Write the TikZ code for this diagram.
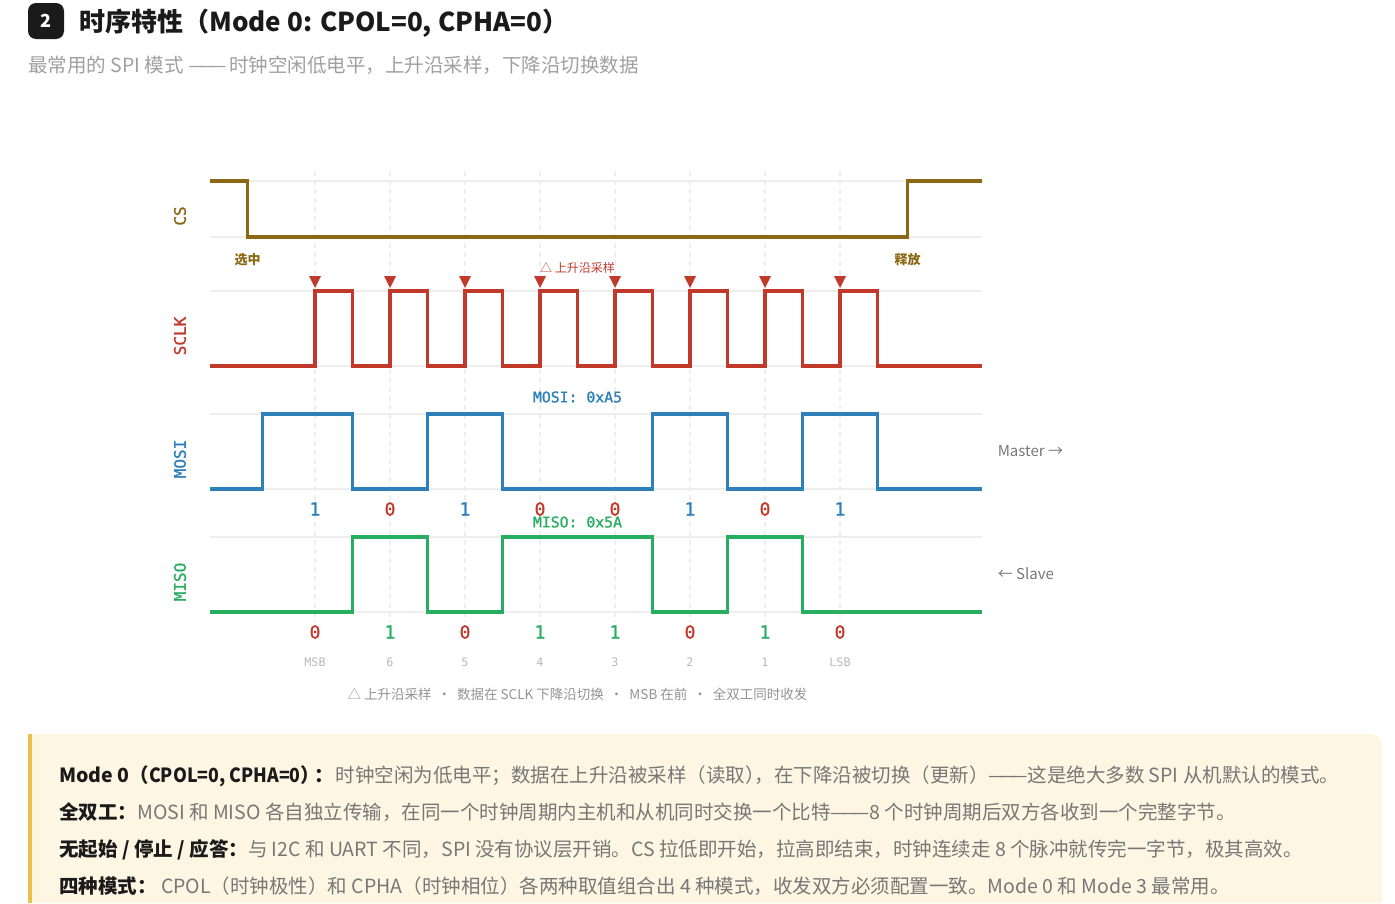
\documentclass[tikz,border=0pt]{standalone}
\usepackage{graphicx}
\usepackage{fontspec}
\setmainfont{Noto Sans CJK SC}
\newfontfamily\monof[FakeBold=1.3]{DejaVu Sans Mono}
\newfontfamily\monol{DejaVu Sans Mono}
\newcommand{\fpx}[1]{\fontsize{\dimexpr#1pt*3/4\relax}{\dimexpr#1pt*9/10\relax}\selectfont}
\definecolor{cscol}{HTML}{8B6914}
\definecolor{sclkcol}{HTML}{C0392B}
\definecolor{mosicol}{HTML}{2E80BA}
\definecolor{misocol}{HTML}{27AE60}
\definecolor{gridcol}{HTML}{EEEEEE}
\definecolor{boxbg}{HTML}{FDF6E3}
\definecolor{boxbar}{HTML}{E8C14A}
\definecolor{inkcol}{HTML}{1A1A1A}
\definecolor{bodycol}{HTML}{777777}
\tikzset{
  wave/.style={line width=2.6pt,line join=miter},
  gridline/.style={draw=gridcol,line width=1.1pt},
  tickline/.style={draw=gridcol,line width=1.1pt,dash pattern=on 3.75pt off 3pt},
  sigtext/.style={font=\monof\fpx{16},rotate=90,inner sep=0pt},
  bittext/.style={font=\monof\fpx{18},inner sep=0pt},
  idxtext/.style={font=\monol\fpx{11.7},text=gray!55,inner sep=0pt},
  hextext/.style={font=\monof\fpx{14.8},inner sep=0pt},
  edgetext/.style={font=\bfseries\fpx{13},text=cscol,inner sep=0pt},
  sidetext/.style={font=\fpx{15},text=bodycol,inner sep=0pt,anchor=west},
  rowtext/.style={font=\fpx{19.5},text=bodycol,inner sep=0pt,anchor=base west},
  edgemark/.style={fill=sclkcol,draw=none}
}
\newcommand{\bd}[1]{{\bfseries\color{inkcol}#1}}
\newcommand{\ldash}{—\kern-5pt—\kern-5pt—}
\begin{document}
\begin{tikzpicture}[x=0.75pt,y=-0.75pt]
\useasboundingbox (0,0) rectangle (1395,903);
\clip (0,0) rectangle (1395,903);
% header
\fill[inkcol,rounded corners=6pt] (28,3) rectangle (64,39);
\node[font=\bfseries\fpx{18},text=white,inner sep=0pt] (badge) at (46,21) {2};
\node[font=\bfseries\fpx{26},text=inkcol,inner sep=0pt,anchor=base west] (title) at (79,31.5) {时序特性（Mode 0: CPOL=0, CPHA=0）};
\node[font=\fpx{19.5},text=gray!75!white,inner sep=0pt,anchor=base west] (subtitle) at (28,72) {最常用的 SPI 模式 \ldash{}\kern-1.5pt{} 时钟空闲低电平，上升沿采样，下降沿切换数据};
% grid
\foreach \yy in {181,237,291,366,414,489,537,612}
  \draw[gridline] (210,\yy) -- (982,\yy);
\foreach \xx in {315,390,...,840}
  \draw[tickline] (\xx,170.5) -- (\xx,622);
% waves
\draw[wave,cscol] (210,181) -| (247.5,237) -| (907.5,181) -- (982,181);
\draw[wave,sclkcol] (210,366)
  -| (315,291) -| (352.5,366) -| (390,291) -| (427.5,366)
  -| (465,291) -| (502.5,366) -| (540,291) -| (577.5,366)
  -| (615,291) -| (652.5,366) -| (690,291) -| (727.5,366)
  -| (765,291) -| (802.5,366) -| (840,291) -| (877.5,366) -- (982,366);
\draw[wave,mosicol] (210,489) -| (262.5,414) -| (352.5,489) -| (427.5,414) -| (502.5,489)
  -| (652.5,414) -| (727.5,489) -| (802.5,414) -| (877.5,489) -- (982,489);
\draw[wave,misocol] (210,612) -| (352.5,537) -| (427.5,612) -| (502.5,537) -| (652.5,612)
  -| (727.5,537) -| (802.5,612) -- (982,612);
% rising edge marks
\foreach \xx in {315,390,...,840}
  \fill[edgemark] (\xx-6,276) -- (\xx+6,276) -- (\xx,288) -- cycle;
% signal names
\node[sigtext,text=cscol] (lcs) at (180,216) {CS};
\node[sigtext,text=sclkcol] (lsclk) at (180,336) {SCLK};
\node[sigtext,text=mosicol] (lmosi) at (180,459) {MOSI};
\node[sigtext,text=misocol] (lmiso) at (180,582) {MISO};
% annotations
\node[edgetext] (sel) at (247.5,260) {选中};
\node[edgetext] (rel) at (907.5,260) {释放};
\node[font=\fpx{12},text=sclkcol,inner sep=0pt] (rise) at (577.5,268) {△ 上升沿采样};
\node[hextext,text=mosicol] (hexmosi) at (577.5,397) {MOSI: 0xA5};
% bits
\foreach \xx/\bb/\cc in {315/1/mosicol,390/0/sclkcol,465/1/mosicol,540/0/sclkcol,615/0/sclkcol,690/1/mosicol,765/0/sclkcol,840/1/mosicol}
  \node[bittext,text=\cc] at (\xx,509) {\bb};
\foreach \xx/\bb/\cc in {315/0/sclkcol,390/1/misocol,465/0/sclkcol,540/1/misocol,615/1/misocol,690/0/sclkcol,765/1/misocol,840/0/sclkcol}
  \node[bittext,text=\cc] at (\xx,632) {\bb};
\node[hextext,text=misocol] (hexmiso) at (577.5,522) {MISO: 0x5A};
\foreach \xx/\tt in {315/MSB,390/6,465/5,540/4,615/3,690/2,765/1,840/LSB}
  \node[idxtext] at (\xx,662) {\tt};
\node[sidetext] (master) at (997.5,451) {Master →};
\node[sidetext] (slave) at (997.5,574) {← Slave};
\node[font=\fpx{13.5},text=gray!85!white,inner sep=0pt] (legend) at (577.5,694) {△ 上升沿采样\ \ ·\ \ 数据在 SCLK 下降沿切换\ \ ·\ \ MSB 在前\ \ ·\ \ 全双工同时收发};
% note box
\fill[boxbg] (28,734) -- (1370,734) arc[start angle=90,end angle=0,x radius=12,y radius=-12] -- (1382,903) -- (28,903) -- cycle;
\fill[boxbar] (28,734) rectangle (32,903);
\node[rowtext] (row1) at (59,782) {\bd{Mode 0（\scalebox{0.91}[1]{CPOL=0, CPHA=0}）\kern-4.5pt：}\kern1.5pt 时钟空闲为低电平；数据在上升沿被采样（读取）\kern-7.5pt，在下降沿被切换（更新）\ldash{}这是绝大多数 SPI 从机默认的模式。};
\node[rowtext] (row2) at (59,819) {\bd{全双工：}MOSI 和 MISO 各自独立传输，在同一个时钟周期内主机和从机同时交换一个比特\ldash{}8 个时钟周期后双方各收到一个完整字节。};
\node[rowtext] (row3) at (59,856) {\bd{无起始 / 停止 / 应答：}与 I2C 和 UART 不同，SPI 没有协议层开销。CS 拉低即开始，拉高即结束，时钟连续走 8 个脉冲就传完一字节，极其高效。};
\node[rowtext] (row4) at (59,893) {\bd{四种模式：} CPOL（时钟极性）和 CPHA（时钟相位）各两种取值组合出 4 种模式，收发双方必须配置一致。Mode 0 和 Mode 3 最常用。};
\end{tikzpicture}
\end{document}
